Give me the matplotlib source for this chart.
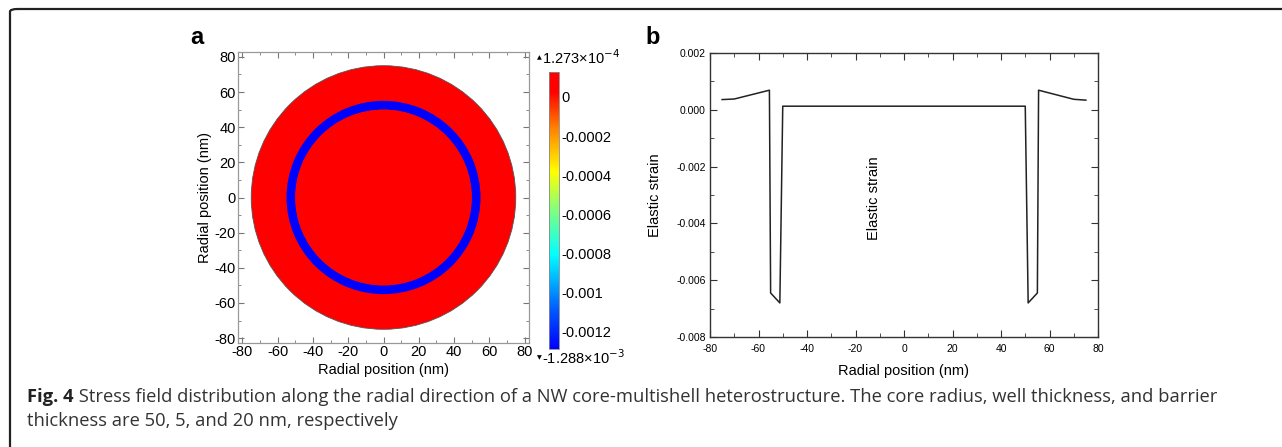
import numpy as np
import matplotlib
matplotlib.use("Agg")
import matplotlib.pyplot as plt
import matplotlib.colors as mcolors
from matplotlib.patches import Circle, Wedge, FancyBboxPatch

# panel a: cross-section regions (radius in nm) and their strain value
core_radius = 50
well_outer = 55
barrier_outer = 75
core_value = 1.273e-4
well_value = -1.288e-3
barrier_value = 1.1e-4
cbar_min = -1.288e-3
cbar_max = 1.273e-4
cbar_ticks = [0, -0.0002, -0.0004, -0.0006, -0.0008, -0.001, -0.0012]
cbar_labels = ["0", "-0.0002", "-0.0004", "-0.0006", "-0.0008", "-0.001", "-0.0012"]

# panel b: elastic strain profile
radial_pos = [-75, -70, -55.5, -55, -51.2, -50, 50, 51.2, 55, 55.5, 70, 75]
elastic_strain = [0.00036, 0.00038, 0.00069, -0.00645, -0.0068, 0.000127,
                  0.000127, -0.0068, -0.00645, 0.00069, 0.00037, 0.00034]

caption_bold = "Fig. 4"
caption_line1 = " Stress field distribution along the radial direction of a NW core-multishell heterostructure. The core radius, well thickness, and barrier"
caption_line2 = "thickness are 50, 5, and 20 nm, respectively"

W, H = 1282, 447
fig = plt.figure(figsize=(W / 100, H / 100), dpi=100)
plt.rcParams['font.family'] = ['Liberation Sans', 'DejaVu Sans']
plt.rcParams['axes.unicode_minus'] = False

def fx(px):
    return px / W

def fy(py):
    return 1 - py / H

# outer frame (only top and left edges fall inside the picture)
frame = FancyBboxPatch((fx(10), fy(460)), fx(1300), fy(9) - fy(460),
                       boxstyle="round,pad=0,rounding_size=0.006",
                       transform=fig.transFigure, fill=False,
                       edgecolor="#222222", linewidth=1.6)
fig.patches.append(frame)

# rainbow colormap, blue -> red
cmap = mcolors.LinearSegmentedColormap.from_list('rb', [
    (0.0, (0.0, 0.0, 1.0)),
    (0.14, (0.0, 0.35, 1.0)),
    (0.34, (0.0, 1.0, 1.0)),
    (0.50, (0.5, 1.0, 0.5)),
    (0.64, (1.0, 1.0, 0.0)),
    (0.80, (1.0, 0.5, 0.0)),
    (0.93, (1.0, 0.0, 0.0)),
    (1.0, (1.0, 0.0, 0.0))])
norm = mcolors.Normalize(vmin=cbar_min, vmax=cbar_max)

# ---- panel a ----
axa = fig.add_axes([fx(238), fy(343), fx(529) - fx(238), fy(52) - fy(343)])
axa.add_patch(Circle((0, 0), barrier_outer, facecolor=cmap(norm(barrier_value)),
                     edgecolor="#555555", linewidth=0.6))
axa.add_patch(Wedge((0, 0), well_outer, 0, 360, width=well_outer - core_radius,
                    facecolor=cmap(norm(well_value)), edgecolor="none"))
axa.add_patch(Circle((0, 0), core_radius, facecolor=cmap(norm(core_value)),
                     edgecolor="none"))
axa.set_xlim(-82.5, 82.5)
axa.set_ylim(-82.8, 82.8)
axa.set_xticks(np.arange(-80, 81, 20))
axa.set_yticks(np.arange(-80, 81, 20))
axa.set_xticks(np.arange(-70, 80, 10), minor=True)
axa.set_yticks(np.arange(-70, 80, 10), minor=True)
axa.tick_params(which='both', direction='in', top=True, right=True,
                color="#777777", labelsize=10.5, pad=1.5)
axa.tick_params(which='major', length=4)
axa.tick_params(which='minor', length=2.5)
for s in axa.spines.values():
    s.set_color("#999999")
    s.set_linewidth(0.9)
axa.set_xlabel("Radial position (nm)", fontsize=10.5, labelpad=3)
axa.set_ylabel("Radial position (nm)", fontsize=10.5, labelpad=2)
fig.text(fx(190), fy(38), "a", fontsize=17, fontweight='bold', va='center')

# colorbar
cax = fig.add_axes([fx(549), fy(349), fx(559) - fx(549), fy(72) - fy(349)])
sm = plt.cm.ScalarMappable(norm=norm, cmap=cmap)
cb = fig.colorbar(sm, cax=cax)
cb.set_ticks(cbar_ticks)
cb.set_ticklabels(cbar_labels)
cb.outline.set_edgecolor("#888888")
cb.outline.set_linewidth(0.6)
cax.tick_params(length=0, labelsize=10.5, pad=2)
for ypos, tri, label in [(1.053, "\u25b2", "1.273\u00d710$^{-4}$"),
                         (-0.03, "\u25bc", "-1.288\u00d710$^{-3}$")]:
    cax.text(-1.0, ypos, tri, transform=cax.transAxes, fontsize=4.5,
             family='DejaVu Sans', ha='center', va='center')
    cax.text(-0.65, ypos, label, transform=cax.transAxes,
             fontsize=10.5, ha='left', va='center')

# ---- panel b ----
axb = fig.add_axes([fx(710), fy(337), fx(1098) - fx(710), fy(53) - fy(337)])
axb.plot(radial_pos, elastic_strain, color="#222222", linewidth=1.1)
axb.set_xlim(-80, 80)
axb.set_ylim(-0.008, 0.002)
axb.set_xticks(np.arange(-80, 81, 20))
axb.set_xticks(np.arange(-70, 80, 20), minor=True)
axb.set_yticks(np.arange(-0.008, 0.0021, 0.002))
axb.set_yticks(np.arange(-0.007, 0.002, 0.002), minor=True)
axb.yaxis.set_major_formatter(plt.FuncFormatter(lambda v, p: "%.3f" % v if abs(v) > 1e-9 else "0.000"))
axb.tick_params(which='both', direction='in', top=True, right=True,
                color="#333333", labelsize=7.5, pad=3)
axb.tick_params(axis='x', which='major', pad=5)
axb.tick_params(which='major', length=5)
axb.tick_params(which='minor', length=3)
for s in axb.spines.values():
    s.set_color("#333333")
    s.set_linewidth(1.0)
axb.set_xlabel("Radial position (nm)", fontsize=10.5, labelpad=7)
axb.set_ylabel("Elastic strain", fontsize=10.5, labelpad=10)
axb.text(-12.5, -0.0031, "Elastic strain", rotation=90, fontsize=10.5,
         ha='center', va='center')
fig.text(fx(645), fy(38), "b", fontsize=17, fontweight='bold', va='center')

# ---- caption ----
renderer = fig.canvas.get_renderer()
cap_font = ['Open Sans', 'DejaVu Sans']
cap_size = 13.2
t = fig.text(fx(27), fy(402), caption_bold, fontsize=cap_size, fontweight='bold',
             family=cap_font, va='baseline', color="#222222")
bb = t.get_window_extent(renderer)
fig.text(bb.x1 / W, fy(402), caption_line1, fontsize=cap_size, family=cap_font,
         va='baseline', color="#333333")
fig.text(fx(27), fy(426), caption_line2, fontsize=cap_size, family=cap_font,
         va='baseline', color="#333333")

fig.savefig("out.png", dpi=100)
